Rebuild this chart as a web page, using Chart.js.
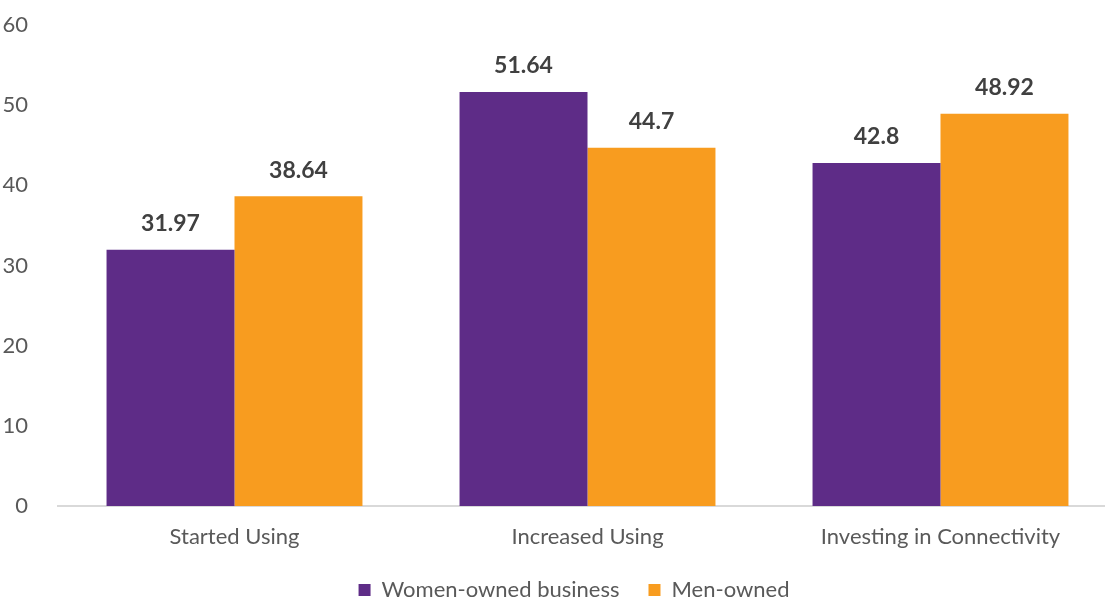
<!DOCTYPE html>
<html>
<head>
<meta charset="utf-8">
<script src="https://cdn.jsdelivr.net/npm/chart.js@4"></script>
<style>
  html, body { margin: 0; padding: 0; background: #fff; overflow: hidden; }
  #wrap { width: 1148px; height: 599px; overflow: hidden; }
</style>
</head>
<body>
<div id="wrap"><canvas id="usageChart" width="1148" height="611"></canvas></div>
<script>
const categories = ['Started Using', 'Increased Using', 'Investing in Connectivity'];
const womenOwned = [31.97, 51.64, 42.8];
const menOwned = [38.64, 44.7, 48.92];
const yTicks = [0, 10, 20, 30, 40, 50, 60];

const FONT = 'Lato, "Open Sans", sans-serif';

// values printed above each bar
const barValues = {
  id: 'barValues',
  afterDatasetsDraw(chart) {
    const ctx = chart.ctx;
    ctx.save();
    ctx.font = 'bold 23px ' + FONT;
    ctx.fillStyle = '#404040';
    ctx.textAlign = 'center';
    ctx.textBaseline = 'middle';
    chart.data.datasets.forEach((ds, i) => {
      chart.getDatasetMeta(i).data.forEach((bar, j) => {
        ctx.fillText(String(ds.data[j]), bar.x, bar.y - 26);
      });
    });
    ctx.restore();
  }
};

const ctx = document.getElementById('usageChart').getContext('2d');

new Chart(ctx, {
  type: 'bar',
  data: {
    labels: categories,
    datasets: [
      {
        label: 'Women-owned business',
        data: womenOwned,
        backgroundColor: '#5e2c87',
        categoryPercentage: 0.725,
        barPercentage: 1.0
      },
      {
        label: 'Men-owned',
        data: menOwned,
        backgroundColor: '#f89c1f',
        categoryPercentage: 0.725,
        barPercentage: 1.0
      }
    ]
  },
  options: {
    responsive: false,
    animation: false,
    layout: { padding: { top: 25, right: 0, bottom: 0, left: 0 } },
    plugins: {
      legend: {
        position: 'bottom',
        labels: {
          boxWidth: 12,
          boxHeight: 12,
          padding: 29,
          color: '#595959',
          font: { family: FONT, size: 22 }
        }
      },
      tooltip: { enabled: false }
    },
    scales: {
      x: {
        grid: { display: false },
        border: { display: true, color: '#d9d9d9', width: 2 },
        ticks: { color: '#595959', padding: 10, font: { family: FONT, size: 22 } },
        afterFit: (scale) => { scale.height = 44; }
      },
      y: {
        min: 0,
        max: 60,
        afterBuildTicks: (scale) => { scale.ticks = yTicks.map(v => ({ value: v })); },
        grid: { display: false },
        border: { display: false },
        ticks: { color: '#595959', padding: 22, font: { family: FONT, size: 22 } },
        afterFit: (scale) => {
          scale.width = 58;
          scale.paddingTop = 0;
          scale.paddingBottom = 0;
        }
      },
      // empty strip on the right, keeps the plot narrower than the legend row
      gap: {
        position: 'right',
        display: true,
        grid: { display: false },
        border: { display: false },
        ticks: { display: false },
        afterFit: (scale) => { scale.width = 31; }
      }
    }
  },
  plugins: [barValues]
});
</script>
</body>
</html>
